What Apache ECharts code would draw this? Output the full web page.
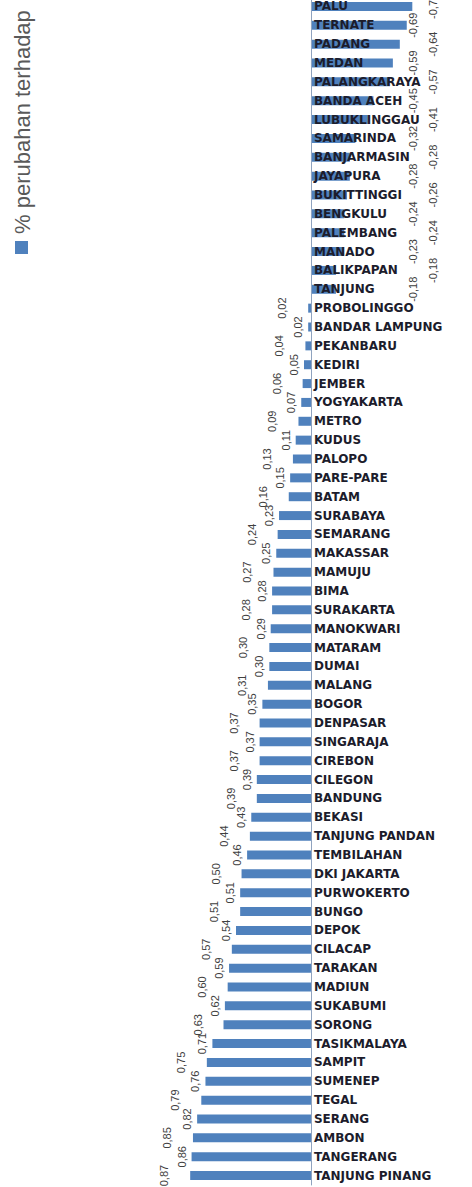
<!DOCTYPE html>
<html>
<head>
<meta charset="utf-8">
<title>% perubahan terhadap</title>
<script src="https://cdn.jsdelivr.net/npm/echarts@6/dist/echarts.min.js"></script>
<style>
  html, body { margin: 0; padding: 0; background: #fff; }
  #chart { width: 472px; height: 1187px; }
</style>
</head>
<body>
<div id="chart"></div>
<script>
// kota, urut dari atas ke bawah (baris paling atas terpotong di gambar)
var kota = ['PALU', 'TERNATE', 'PADANG', 'MEDAN', 'PALANGKARAYA', 'BANDA ACEH', 'LUBUKLINGGAU',
	'SAMARINDA', 'BANJARMASIN', 'JAYAPURA', 'BUKITTINGGI', 'BENGKULU', 'PALEMBANG', 'MANADO',
	'BALIKPAPAN', 'TANJUNG', 'PROBOLINGGO', 'BANDAR LAMPUNG', 'PEKANBARU', 'KEDIRI', 'JEMBER',
	'YOGYAKARTA', 'METRO', 'KUDUS', 'PALOPO', 'PARE-PARE', 'BATAM', 'SURABAYA', 'SEMARANG',
	'MAKASSAR', 'MAMUJU', 'BIMA', 'SURAKARTA', 'MANOKWARI', 'MATARAM', 'DUMAI', 'MALANG', 'BOGOR',
	'DENPASAR', 'SINGARAJA', 'CIREBON', 'CILEGON', 'BANDUNG', 'BEKASI', 'TANJUNG PANDAN',
	'TEMBILAHAN', 'DKI JAKARTA', 'PURWOKERTO', 'BUNGO', 'DEPOK', 'CILACAP', 'TARAKAN', 'MADIUN',
	'SUKABUMI', 'SORONG', 'TASIKMALAYA', 'SAMPIT', 'SUMENEP', 'TEGAL', 'SERANG', 'AMBON',
	'TANGERANG', 'TANJUNG PINANG'];

// % perubahan, sama urutannya dengan kota
var perubahan = [-0.73, -0.69, -0.64, -0.59, -0.57, -0.45, -0.41, -0.32, -0.28, -0.28, -0.26,
	-0.24, -0.24, -0.23, -0.18, -0.18,
	0.02, 0.02, 0.04, 0.05, 0.06, 0.07, 0.09, 0.11, 0.13, 0.15, 0.16, 0.23, 0.24, 0.25, 0.27,
	0.28, 0.28, 0.29, 0.30, 0.30, 0.31, 0.35, 0.37, 0.37, 0.37, 0.39, 0.39, 0.43, 0.44, 0.46,
	0.50, 0.51, 0.51, 0.54, 0.57, 0.59, 0.60, 0.62, 0.63, 0.71, 0.75, 0.76, 0.79, 0.82, 0.85,
	0.86, 0.87];

var legendText = '% perubahan terhadap';
var biru = '#4f81bd';

var chart = echarts.init(document.getElementById('chart'), null, { renderer: 'svg' });

var option = {
	animation: false,
	backgroundColor: '#fff',
	grid: {
		left: 0, right: 0, top: -3, bottom: 2,
		containLabel: false,
		outerBoundsMode: 'none'
	},
	xAxis: {
		type: 'value',
		inverse: true,	// nilai positif ke kiri
		min: -1.16,
		max: 2.24,
		show: false
	},
	yAxis: {
		type: 'category',
		data: kota,
		inverse: true,
		position: 'right',
		z: 5,	// nama kota di atas batang negatif
		axisLine: { onZero: false, lineStyle: { color: '#8fa3bf', width: 1 } },
		axisTick: { show: false },
		splitLine: { show: false },
		axisLabel: {
			interval: 0,
			margin: 3,
			color: '#1c1c2c',
			fontFamily: 'DejaVu Sans',
			fontWeight: 'bold',
			fontSize: 12
		}
	},
	series: [{
		name: legendText,
		type: 'bar',
		barWidth: 9,
		data: perubahan,
		itemStyle: { color: biru },
		label: {
			show: true,
			rotate: 90,
			fontFamily: 'Liberation Sans',
			fontSize: 11,
			color: '#404040',
			formatter: function (p) {
				return p.value.toFixed(2).replace('.', ',');
			}
		},
		// label bertingkat supaya tidak saling tumpuk
		labelLayout: function (p) {
			var i = p.dataIndex;
			var r = p.rect;
			var x;
			if (perubahan[i] < 0) x = r.x + (i % 2 ? 102 : 122);
			else x = r.x - (i % 2 ? 10 : 26);
			return { x: x, y: r.y + r.height / 2, align: 'center', verticalAlign: 'middle' };
		}
	}],
	graphic: [
		{ type: 'rect', shape: { x: 15, y: 241, width: 13, height: 13 }, style: { fill: biru } },
		{
			type: 'text', x: 22, y: 234, rotation: Math.PI / 2,
			style: {
				text: legendText,
				font: '22px "Liberation Sans"',
				fill: '#595959',
				align: 'left',
				verticalAlign: 'middle'
			}
		}
	]
};

chart.setOption(option);

// geser sumbu kategori ke garis nol (kanan grid = lebar kanvas)
var nolX = chart.convertToPixel({ xAxisIndex: 0 }, 0);
chart.setOption({ yAxis: { offset: nolX - chart.getWidth() } });
</script>
</body>
</html>
